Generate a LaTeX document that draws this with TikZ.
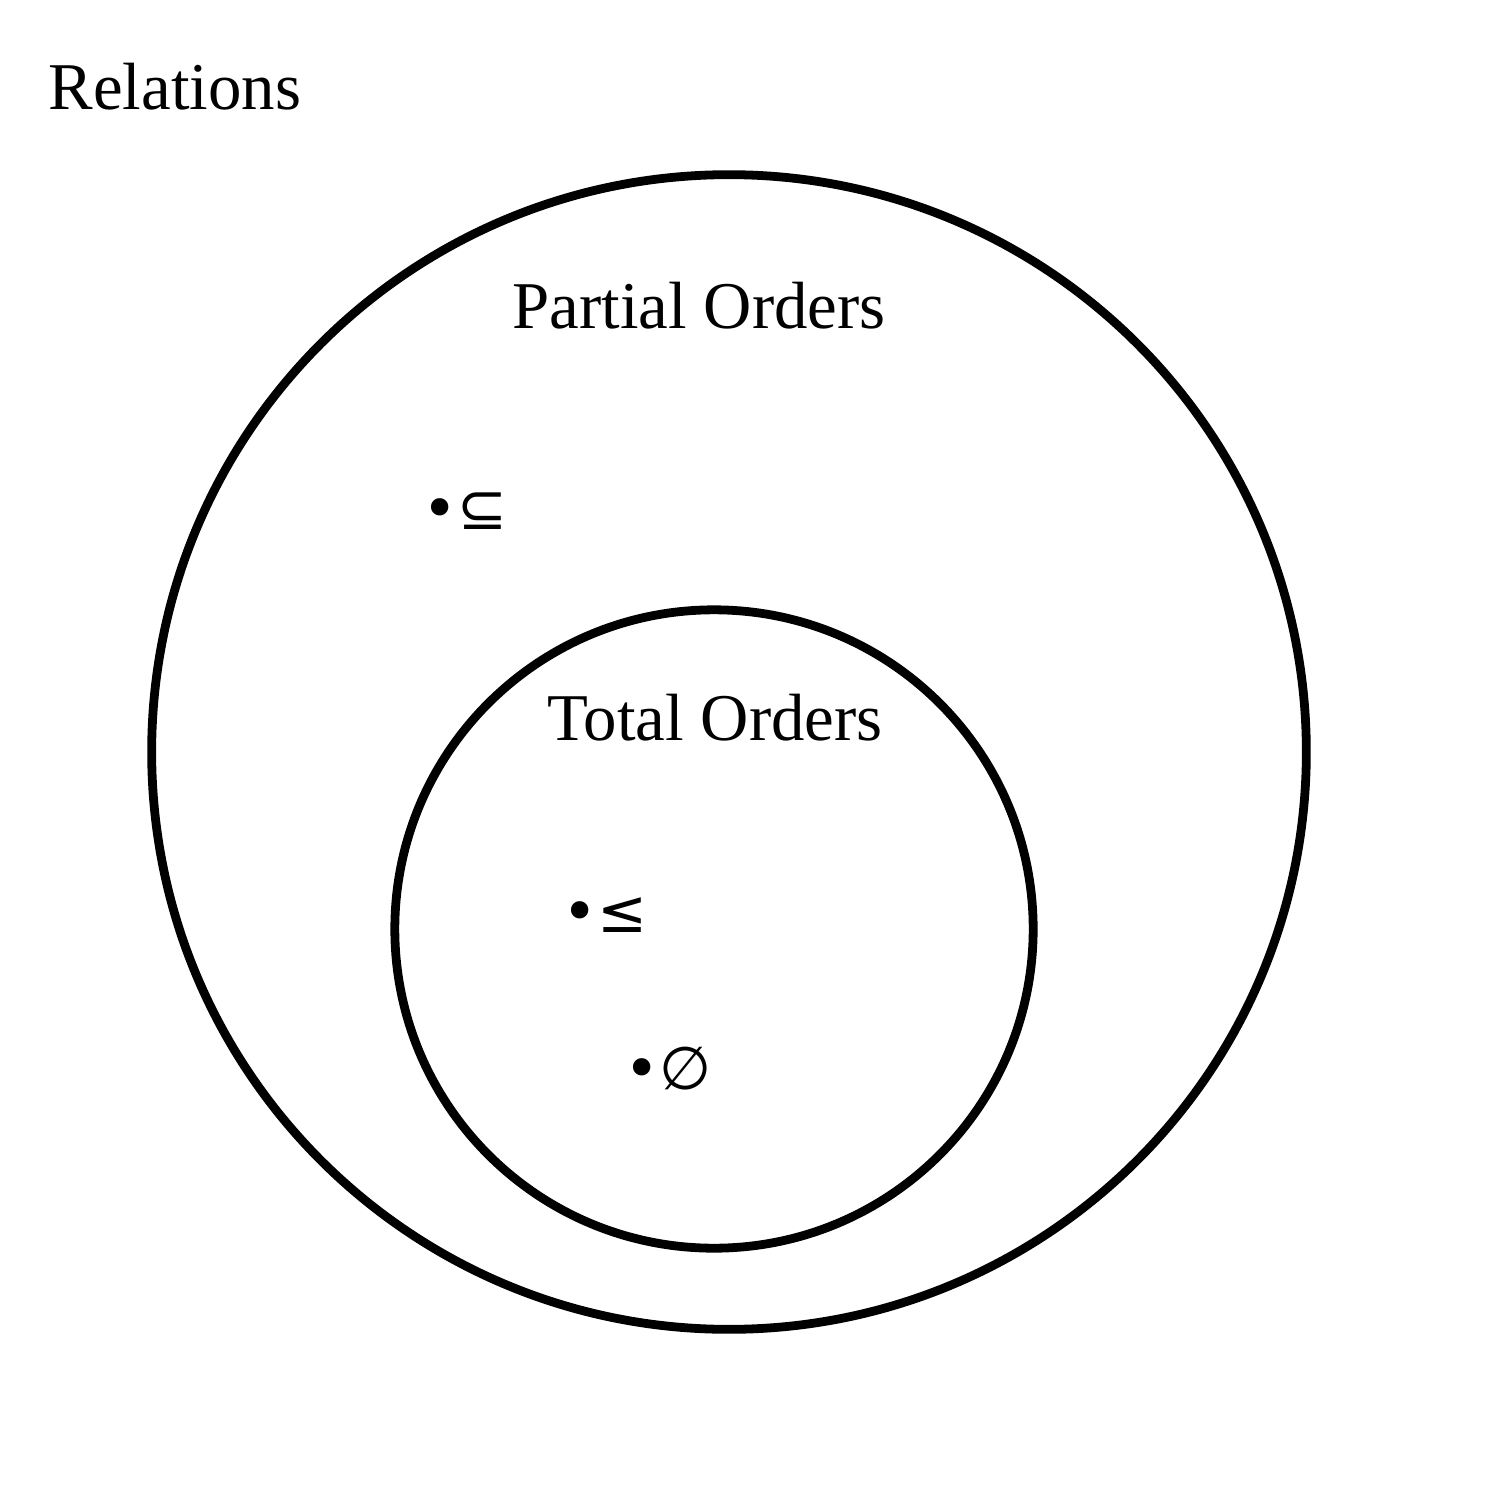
\documentclass[tikz,border=0pt]{standalone}
\usepackage{fontspec}
\setmainfont{Liberation Serif}
\newfontfamily\symfont{DejaVu Sans}
\begin{document}
\begin{tikzpicture}[x=0.01cm,y=-0.01cm,
  ring/.style={draw=black,line width=2.5pt},
  lbl/.style={inner sep=0pt,anchor=base west,font=\fontsize{19}{22}\selectfont},
  elem/.style={inner sep=0pt,anchor=base west,font=\symfont\fontsize{17}{20}\selectfont}]
\useasboundingbox (0,0) rectangle (1500,1500);
\node[ring,circle,minimum size=11.54cm] (outer) at (729,752) {};
\node[ring,circle,minimum size=6.38cm] (inner) at (714,929) {};
\node[lbl] (rel) at (48,110) {Relations};
\node[lbl] (po) at (512,328) {Partial Orders};
\node[lbl] (to) at (547,740) {Total Orders};
\node[elem] (sub) at (422,529) {•⊆};
\node[elem] (leq) at (562,932) {•≤};
\node[elem] (emp) at (624,1089) {•∅};
\end{tikzpicture}
\end{document}
